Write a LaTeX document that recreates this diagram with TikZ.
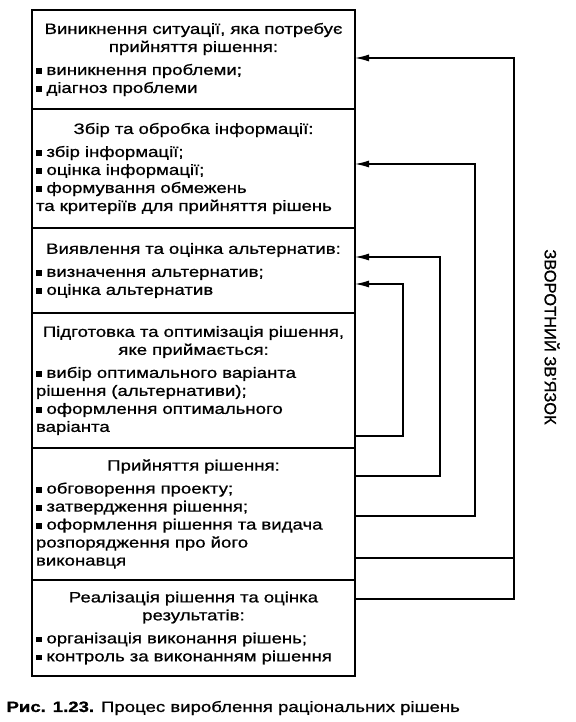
\documentclass[tikz,border=0pt]{standalone}
\usepackage{fontspec}
\setmainfont{Liberation Sans}[FakeStretch=1.24,FakeBold=0.8]
\newfontfamily\fblabelfont{Liberation Sans}[FakeBold=0.8]
\usetikzlibrary{arrows.meta,positioning}
\setlength{\parindent}{0pt}
\newcommand{\sqbullet}{\rule[1pt]{5.5pt}{5.5pt}\ }
\newcommand{\stagehead}[1]{{\centering #1\par}\vspace{5pt}}
\tikzset{stage/.style={draw,line width=1.2pt,outer sep=0pt,minimum width=323pt,text width=315pt,
 inner xsep=4pt,inner ysep=2pt,align=left,font=\fontsize{15}{18}\selectfont},
 fb/.style={-{Latex[length=14pt,width=7pt]},line width=1.3pt},fbline/.style={line width=1.3pt}}

\begin{document}
\begin{tikzpicture}[x=1pt,y=-1pt,node distance=0pt]
\useasboundingbox (0,0) rectangle (575,722);
\node[stage,minimum height=99pt,anchor=north west] (s1) at (32,10) {\stagehead{Виникнення ситуації, яка потребує\\прийняття рішення:}%
 \sqbullet виникнення проблеми;\\\sqbullet діагноз проблеми};
\node[stage,minimum height=119pt,below=of s1] (s2) {\stagehead{Збір та обробка інформації:}%
 \sqbullet збір інформації;\\\sqbullet оцінка інформації;\\\sqbullet формування обмежень\\та критеріїв для прийняття рішень};
\node[stage,minimum height=85pt,below=of s2] (s3) {\stagehead{Виявлення та оцінка альтернатив:}%
 \sqbullet визначення альтернатив;\\\sqbullet оцінка альтернатив};
\node[stage,minimum height=135pt,below=of s3] (s4) {\stagehead{Підготовка та оптимізація рішення,\\яке приймається:}%
 \sqbullet вибір оптимального варіанта\\рішення (альтернативи);\\\sqbullet оформлення оптимального\\варіанта};
\node[stage,minimum height=132pt,below=of s4] (s5) {\stagehead{Прийняття рішення:}%
 \sqbullet обговорення проекту;\\\sqbullet затвердження рішення;\\\sqbullet оформлення рішення та видача\\розпорядження про його\\виконавця};
\node[stage,minimum height=96pt,below=of s5] (s6) {\stagehead{Реалізація рішення та оцінка\\результатів:}%
 \sqbullet організація виконання рішень;\\\sqbullet контроль за виконанням рішення};

\draw[fb] (s4.east |- 0,436) -- ++(48,0) |- (s3.east |- 0,284);
\draw[fb] (s5.east |- 0,476) -- ++(85,0) |- (s3.east |- 0,257);
\draw[fb] (s5.east |- 0,516) -- ++(120,0) |- (s2.east |- 0,164);
\draw[fb] (s6.east |- 0,599) -- ++(159,0) coordinate (fbo) |- (s1.east |- 0,58);
\draw[fbline] (s5.east |- 0,558) -- (fbo |- 0,558);

\node[rotate=-90,font=\fblabelfont\fontsize{16.5}{18}\selectfont] (fblabel) at (552,337) {ЗВОРОТНИЙ ЗВ'ЯЗОК};
\node[anchor=west,font=\fontsize{15}{18}\selectfont] (caption) at (3,708) {\textbf{Рис. 1.23.} Процес вироблення раціональних рішень};
\end{tikzpicture}
\end{document}
